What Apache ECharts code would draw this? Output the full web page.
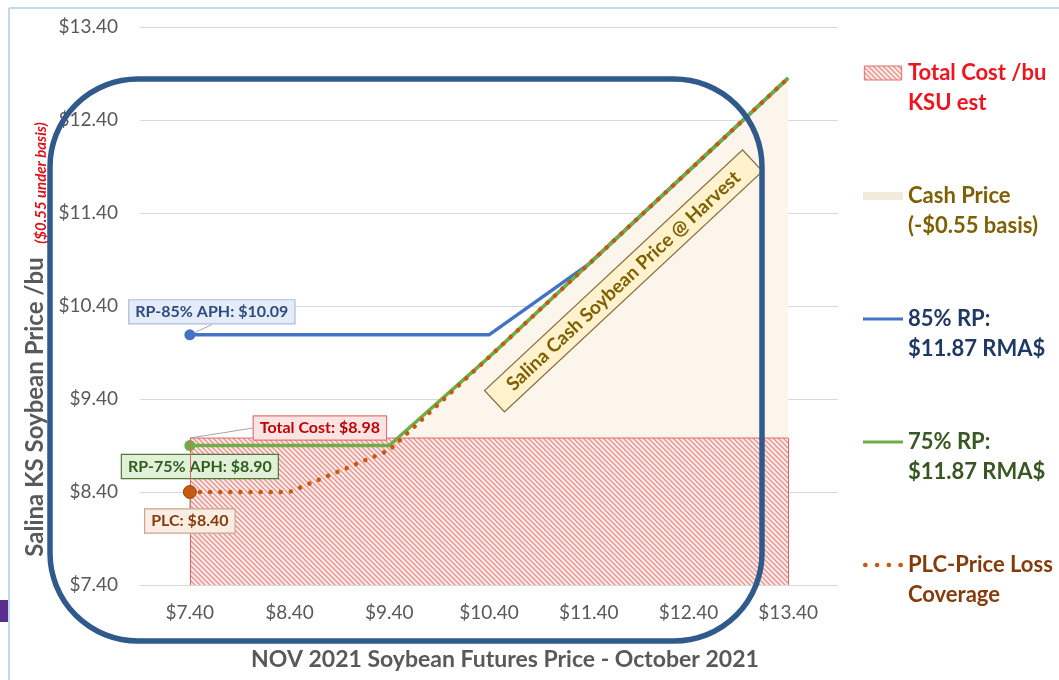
<!DOCTYPE html>
<html><head><meta charset="utf-8">
<script src="https://cdn.jsdelivr.net/npm/echarts@6/dist/echarts.min.js"></script>
<style>html,body{margin:0;padding:0;background:#fff}#c{width:1059px;height:680px}</style>
</head><body><div id="c"></div>
<script>
// ---- data ----
const categories = ['$7.40','$8.40','$9.40','$10.40','$11.40','$12.40','$13.40'];
const totalCost = [8.98, 8.98, 8.98, 8.98, 8.98, 8.98, 8.98];
const cashPrice = [6.85, 7.85, 8.85, 9.85, 10.85, 11.85, 12.85];
const rp85 = [10.09, 10.09, 10.09, 10.09, 10.85, 11.85, 12.85];
const rp75 = [8.90, 8.90, 8.90, 9.85, 10.85, 11.85, 12.85];
const plc = [8.40, 8.40, 8.85, 9.85, 10.85, 11.85, 12.85];
const yMin = 7.40, yMax = 13.40, yStep = 1;
const seriesNames = ['Total Cost /bu KSU est', 'Cash Price (-$0.55 basis)', '85% RP: $11.87 RMA$', '75% RP: $11.87 RMA$', 'PLC-Price Loss Coverage'];
const legendLines = [['Total Cost /bu', 'KSU est'], ['Cash Price', '(-$0.55 basis)'], ['85% RP:', '$11.87 RMA$'], ['75% RP:', '$11.87 RMA$'], ['PLC-Price Loss', 'Coverage']];
const xTitle = 'NOV 2021 Soybean Futures Price - October 2021';
const yTitle = 'Salina KS Soybean Price /bu';
const ySubTitle = '($0.55 under basis)';
const cashNote = 'Salina Cash Soybean Price @ Harvest';

const FF = 'Lato, "Open Sans", sans-serif';

function hatch() {
  const s = 5, c = document.createElement('canvas');
  c.width = s; c.height = s;
  const g = c.getContext('2d');
  g.fillStyle = '#FCEDEB'; g.fillRect(0, 0, s, s);
  g.strokeStyle = '#EA908C'; g.lineWidth = 1.3;
  g.beginPath();
  g.moveTo(-1, -1); g.lineTo(s + 1, s + 1);
  g.moveTo(-1, s - 1); g.lineTo(1, s + 1);
  g.moveTo(s - 1, -1); g.lineTo(s + 1, 1);
  g.stroke();
  return c;
}
const hatchPattern = { image: hatch(), repeat: 'repeat' };

function firstOnly(arr, size, label) {
  return arr.map((v, i) => i === 0 ? { value: v, symbolSize: size, label: label } : { value: v, symbolSize: 0 });
}
function boxLabel(text, bg, border, color) {
  return { show: true, position: 'inside', formatter: text, backgroundColor: bg, borderColor: border, borderWidth: 1.2,
    padding: [4, 6, 3, 6], color: color, fontFamily: FF, fontWeight: 'bold', fontSize: 16 };
}
const leader = { show: true, lineStyle: { color: '#A6A6A6', width: 1 } };

const chart = echarts.init(document.getElementById('c'));
chart.setOption({
  animation: false,
  grid: { left: 140, right: 221, top: 27, bottom: 95 },
  xAxis: {
    type: 'category', data: categories, boundaryGap: true,
    axisLine: { show: false }, axisTick: { show: false },
    axisLabel: { color: '#595959', fontSize: 19, fontFamily: FF, margin: 18 },
    name: xTitle, nameLocation: 'middle', nameGap: 63,
    nameTextStyle: { color: '#595959', fontSize: 23, fontWeight: 'bold', fontFamily: FF, padding: [0, 0, 0, 32] }
  },
  yAxis: {
    type: 'value', min: yMin, max: yMax, interval: yStep,
    axisLine: { show: false }, axisTick: { show: false },
    splitLine: { lineStyle: { color: '#D9D9D9', width: 1.2 } },
    axisLabel: { color: '#595959', fontSize: 19, fontFamily: FF, margin: 22, formatter: v => '$' + v.toFixed(2) },
    name: yTitle, nameLocation: 'middle', nameRotate: 90, nameGap: 93,
    nameTextStyle: { color: '#595959', fontSize: 24, fontWeight: 'bold', fontFamily: FF, padding: [0, 202, 0, 0] }
  },
  legend: {
    orient: 'vertical', left: 858, top: 23, itemWidth: 40, itemHeight: 14, itemGap: 33,
    selectedMode: false,
    textStyle: { fontFamily: FF, fontSize: 22, fontWeight: 'bold', lineHeight: 30 },
    formatter: name => '\n' + legendLines[seriesNames.indexOf(name)].join('\n'),
    data: [
      { name: seriesNames[0], icon: 'path://M0,0H40V15H0Z', itemStyle: { color: hatchPattern, borderColor: '#E07070', borderWidth: 1 }, textStyle: { color: '#F0141E' } },
      { name: seriesNames[1], icon: 'path://M0,0H40V8H0Z', itemStyle: { color: '#F2EBDC', borderWidth: 0 }, textStyle: { color: '#7F6000' } },
      { name: seriesNames[2], icon: 'path://M0,0H40V3H0Z', itemStyle: { color: '#4472C4', borderWidth: 0 }, textStyle: { color: '#1F3864' } },
      { name: seriesNames[3], icon: 'path://M0,0H40V3H0Z', itemStyle: { color: '#70AD47', borderWidth: 0 }, textStyle: { color: '#385723' } },
      { name: seriesNames[4], icon: 'path://M0,2A2,2,0,1,1,4,2A2,2,0,1,1,0,2ZM10,2A2,2,0,1,1,14,2A2,2,0,1,1,10,2ZM20,2A2,2,0,1,1,24,2A2,2,0,1,1,20,2ZM30,2A2,2,0,1,1,34,2A2,2,0,1,1,30,2Z', itemStyle: { color: '#C55A11', borderWidth: 0 }, textStyle: { color: '#843C0C' } }
    ]
  },
  series: [
    {
      name: seriesNames[1], type: 'line', z: 1,
      data: cashPrice.map((v, i) => i === 4 ? { value: v, label: {
        show: true, position: 'inside', offset: [14, 36], rotate: 43, formatter: cashNote,
        backgroundColor: '#FFF2CC', borderColor: '#8C6A3C', borderWidth: 1.2, padding: [5, 20, 4, 20],
        color: '#7F6000', fontFamily: FF, fontWeight: 'bold', fontSize: 19 } } : v),
      symbol: 'circle', symbolSize: 0,
      lineStyle: { width: 0 }, itemStyle: { color: '#F2EBDC' },
      areaStyle: { color: '#FBF5EC', opacity: 1 }
    },
    {
      name: seriesNames[0], type: 'line', z: 2,
      data: firstOnly(totalCost, 0, boxLabel('Total Cost: $' + totalCost[0].toFixed(2), '#FCE4E4', '#E57373', '#C00000')),
      symbol: 'circle',
      lineStyle: { color: '#E06666', width: 1 }, itemStyle: { color: '#E06666' },
      areaStyle: { color: hatchPattern, opacity: 1 },
      labelLayout: { dx: 130, dy: -10 }, labelLine: leader,
      markLine: {
        silent: true, symbol: 'none', label: { show: false },
        lineStyle: { color: '#E06666', width: 1, type: 'solid' },
        data: [
          [{ coord: [categories[0], yMin] }, { coord: [categories[0], totalCost[0]] }],
          [{ coord: [categories[6], yMin] }, { coord: [categories[6], totalCost[6]] }]
        ]
      }
    },
    {
      name: seriesNames[2], type: 'line', z: 3,
      data: firstOnly(rp85, 11, boxLabel('RP-85% APH: $' + rp85[0].toFixed(2), '#E4ECF7', '#A9BEDD', '#2F4B80')),
      symbol: 'circle',
      lineStyle: { color: '#4472C4', width: 3.5 }, itemStyle: { color: '#4472C4' },
      labelLayout: { dx: 22, dy: -23 }, labelLine: leader
    },
    {
      name: seriesNames[3], type: 'line', z: 4,
      data: firstOnly(rp75, 11, boxLabel('RP-75% APH: $' + rp75[0].toFixed(2), '#E2F0D9', '#4E7A35', '#2E5E1E')),
      symbol: 'circle',
      lineStyle: { color: '#70AD47', width: 3.5 }, itemStyle: { color: '#70AD47' },
      labelLayout: { dx: 10, dy: 21 }
    },
    {
      name: seriesNames[4], type: 'line', z: 5,
      data: firstOnly(plc, 13, boxLabel('PLC: $' + plc[0].toFixed(2), '#FBEDE3', '#C9A68A', '#843C0C')),
      symbol: 'circle',
      lineStyle: { color: '#C55A11', width: 4.5, type: [0.1, 10], cap: 'round' },
      itemStyle: { color: '#C55A11', borderColor: '#9E480E', borderWidth: 1 },
      labelLayout: { dx: 0, dy: 29 }, labelLine: leader
    }
  ],
  graphic: [
    { type: 'line', shape: { x1: 9, y1: 8, x2: 1059, y2: 8 }, style: { stroke: '#A9CFE3', lineWidth: 1.5 }, silent: true },
    { type: 'line', shape: { x1: 9, y1: 8, x2: 9, y2: 680 }, style: { stroke: '#A9CFE3', lineWidth: 1.5 }, silent: true },
    { type: 'rect', shape: { x: 0, y: 600, width: 8, height: 22 }, style: { fill: '#5B2D8E' }, silent: true },
    { type: 'text', x: 41, y: 183, rotation: Math.PI / 2, silent: true,
      style: { text: ySubTitle, fill: '#E0101A', font: 'italic bold 15px ' + FF, align: 'center', verticalAlign: 'middle' } },
    { type: 'rect', z: 100, silent: true, shape: { x: 50, y: 79, width: 712, height: 562, r: 88 },
      style: { fill: 'none', stroke: '#305A8C', lineWidth: 5.5 } }
  ]
});
</script>
</body></html>
